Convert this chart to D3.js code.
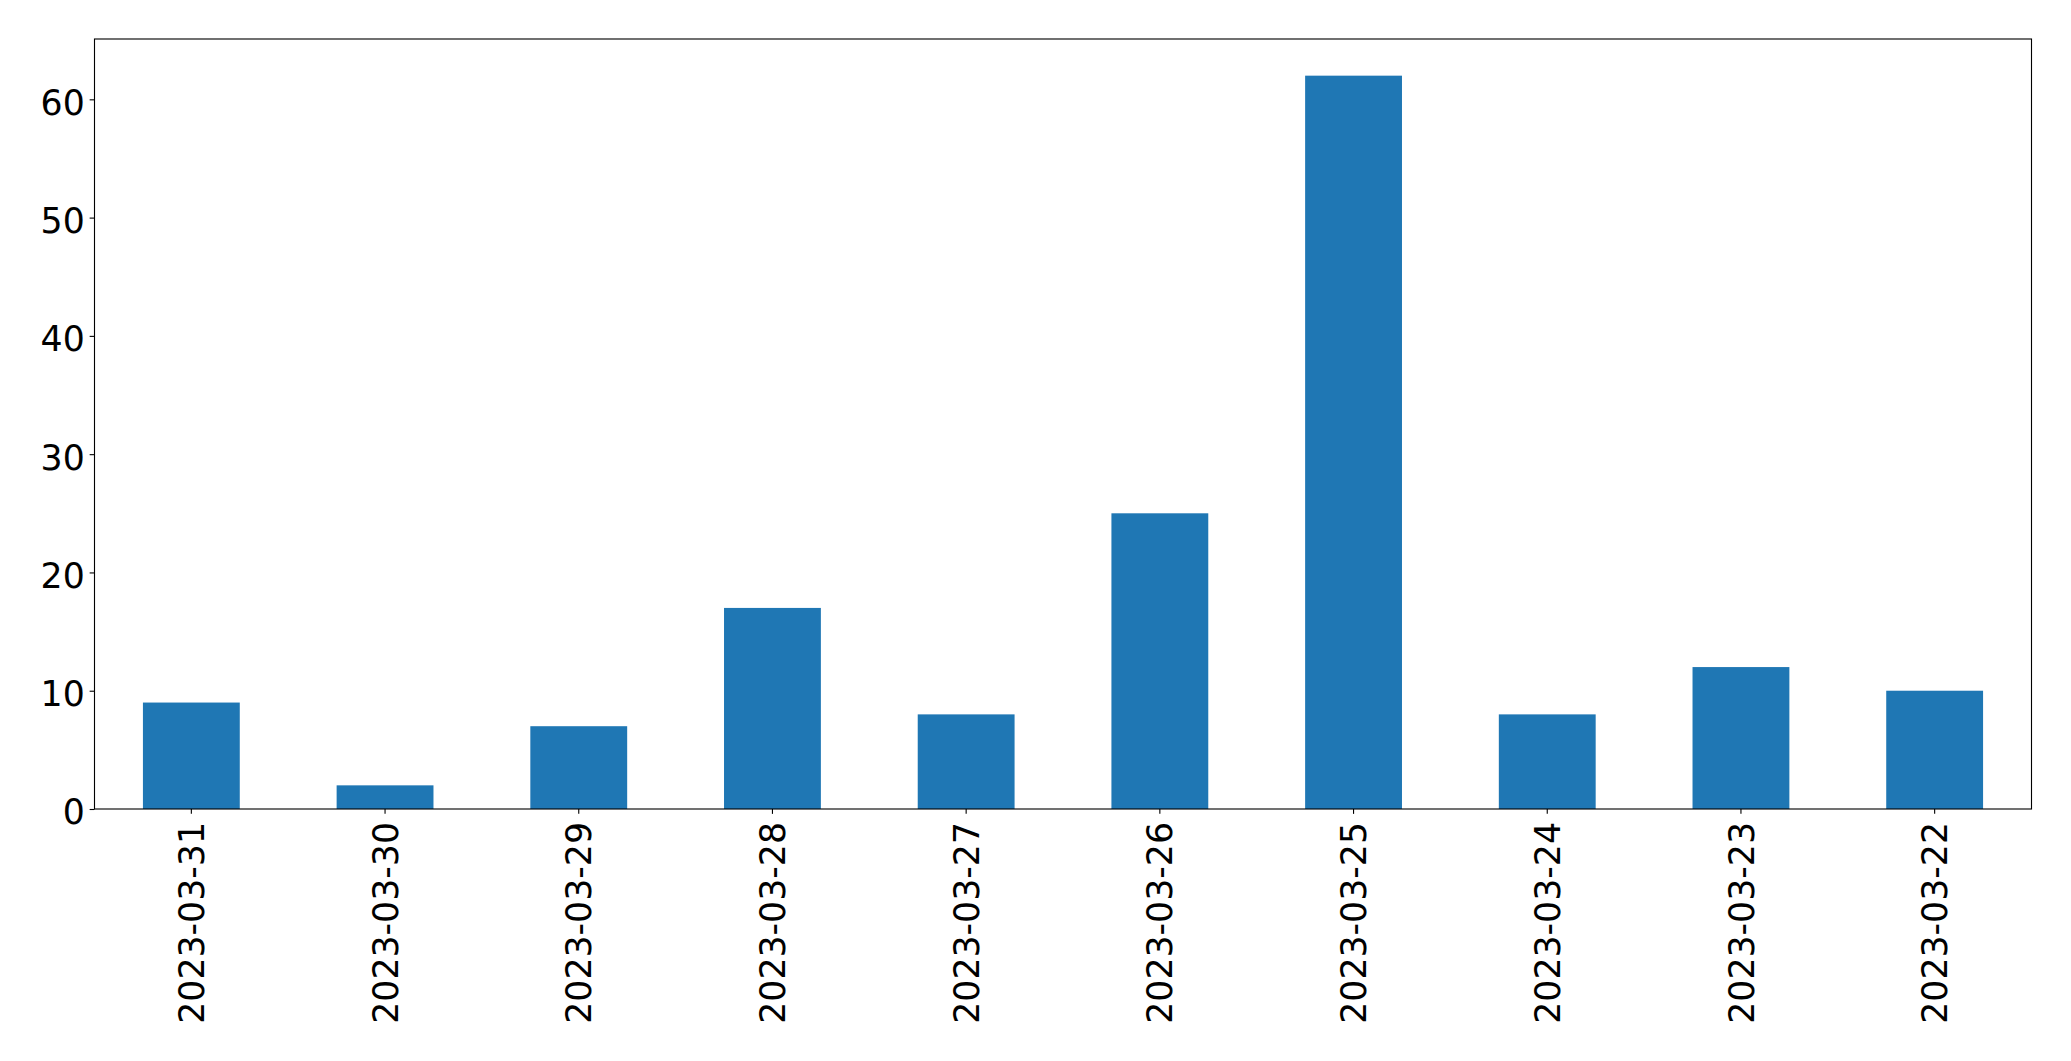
<!DOCTYPE html>
<html>
<head>
<meta charset="utf-8">
<script src="https://cdn.jsdelivr.net/npm/d3@7"></script>
<style>
html,body{margin:0;padding:0;background:#fff;}
svg{display:block;}
text{font-family:"DejaVu Sans",sans-serif;fill:#000;}
</style>
</head>
<body>
<svg id="chart" width="2071" height="1061"></svg>
<script>
const categories = ["2023-03-31","2023-03-30","2023-03-29","2023-03-28","2023-03-27","2023-03-26","2023-03-25","2023-03-24","2023-03-23","2023-03-22"];
const values = [9, 2, 7, 17, 8, 25, 62, 8, 12, 10];
const yTicks = [0, 10, 20, 30, 40, 50, 60];

const W = 2071, H = 1061;
const margin = {left: 94.5, top: 39, right: W - 2031.5, bottom: H - 809};
const fontSize = 34.72;
const tickLen = 4.86;

const svg = d3.select("#chart");
const iw = W - margin.left - margin.right;
const ih = H - margin.top - margin.bottom;

const x = d3.scaleBand().domain(categories).range([margin.left, margin.left + iw]).paddingInner(0.5).paddingOuter(0.25);
const y = d3.scaleLinear().domain([0, d3.max(values) * 1.05]).range([margin.top + ih, margin.top]);

svg.append("g").selectAll("rect").data(values).join("rect")
  .attr("x", (d, i) => x(categories[i]))
  .attr("width", x.bandwidth())
  .attr("y", d => y(d))
  .attr("height", d => y(0) - y(d))
  .attr("fill", "#1f77b4");

// frame
svg.append("rect")
  .attr("x", margin.left).attr("y", margin.top)
  .attr("width", iw).attr("height", ih)
  .attr("fill", "none").attr("stroke", "#000").attr("stroke-width", 1.11);

// y axis
const yAxis = d3.axisLeft(y).tickValues(yTicks).tickSize(tickLen).tickPadding(4.86).tickFormat(d3.format("d"));
const gy = svg.append("g").attr("transform", `translate(${margin.left},0)`).call(yAxis);
gy.select(".domain").remove();
gy.selectAll(".tick line").attr("stroke", "#000").attr("stroke-width", 1.11);
gy.selectAll(".tick text").attr("font-size", fontSize).attr("font-family", "DejaVu Sans").attr("dy", "0.43em").attr("fill", "#000");

// x axis
const xAxis = d3.axisBottom(x).tickSize(tickLen).tickPadding(0);
const gx = svg.append("g").attr("transform", `translate(0,${margin.top + ih})`).call(xAxis);
gx.select(".domain").remove();
gx.selectAll(".tick line").attr("stroke", "#000").attr("stroke-width", 1.11);
gx.selectAll(".tick text")
  .attr("font-size", fontSize).attr("font-family", "DejaVu Sans").attr("fill", "#000")
  .attr("text-anchor", "end")
  .attr("y", 0).attr("dy", "0.364em")
  .attr("transform", "translate(0,13) rotate(-90)");
</script>
</body>
</html>
